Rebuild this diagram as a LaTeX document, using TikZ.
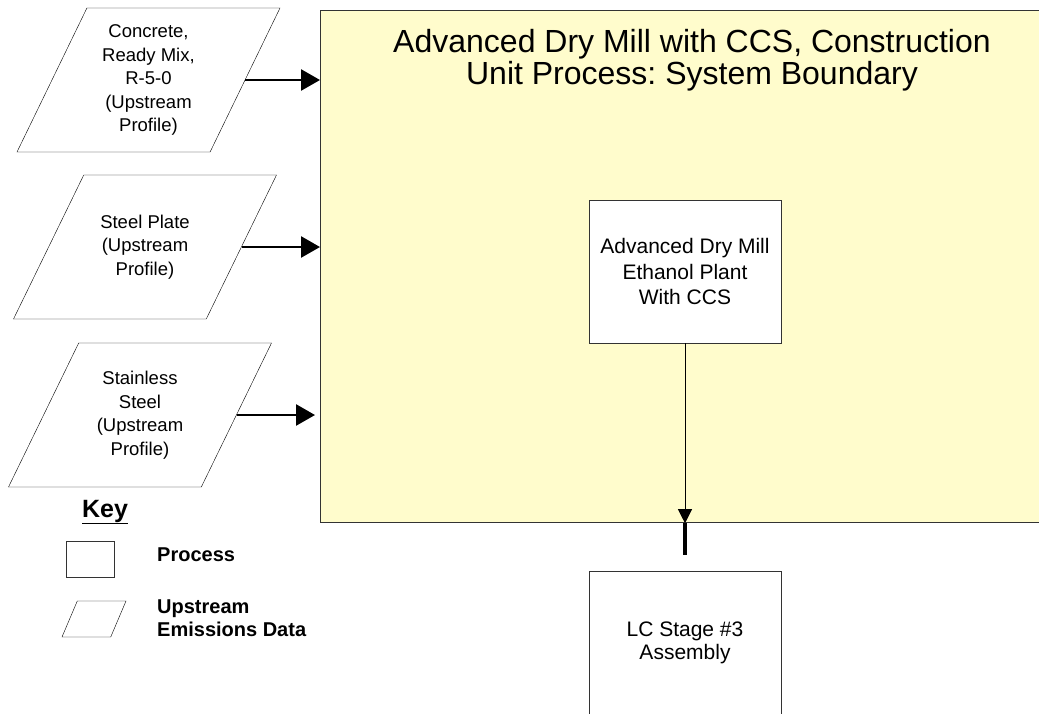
\documentclass[tikz,border=0pt]{standalone}
\usepackage{fontspec}
\setmainfont{Liberation Sans}
\usepackage{tikz}
\usetikzlibrary{shapes.geometric,arrows.meta,positioning}
\frenchspacing

\begin{document}
\begin{tikzpicture}[
  x=1pt, y=-1pt,
  updata/.style={trapezium, trapezium left angle=64, trapezium right angle=116,
    trapezium stretches body, draw=black, thin, align=center,
    inner xsep=0pt, inner ysep=#1,
    minimum width=263pt, minimum height=144pt,
    font=\fontsize{18.5}{23.5}\selectfont},
  proc/.style={rectangle, draw=black!80, fill=white, align=center,
    minimum width=192pt, minimum height=143pt,
    font=\fontsize{21}{25.5}\selectfont},
  bound/.style={rectangle, draw=black!80, line width=1.2pt, fill=yellow!20,
    anchor=north west, minimum width=740pt, minimum height=512pt},
  keytxt/.style={anchor=west, align=left, inner sep=0pt,
    font=\bfseries\fontsize{20}{23}\selectfont},
  arr/.style={-{Triangle[length=19pt,width=21pt]}, line width=2.6pt},
  flow/.style={-{Triangle[length=14pt,width=14pt]}, line width=0.8pt}
]
\useasboundingbox (0,0) rectangle (1039,713);

% system boundary
\node[bound] (boundary) at (320,10) {};
\node[align=center, font=\fontsize{32}{32}\selectfont] (title) at (692,60)
  {Advanced Dry Mill with CCS, Construction\\Unit Process: System Boundary};

% upstream profiles
\node[updata=16.3pt] (concrete) at (148.5,80) {Concrete,\\Ready Mix,\\R-5-0\\(Upstream\\Profile)};
\node[updata=39.9pt] (plate) at (145,247) {Steel Plate\\(Upstream\\Profile)};
\node[updata=28.1pt] (stainless) at (140,415) {Stainless\\Steel\\(Upstream\\Profile)};

% processes
\node[proc] (plant) at (685,271.5) {Advanced Dry Mill\\Ethanol Plant\\With CCS};
\node[proc, font=\fontsize{21}{23}\selectfont] (stage) at (685,642.5) {LC Stage \#3\\Assembly};
\coordinate (exit) at (685,555);

\draw[arr] (concrete.east) -- (concrete.east -| boundary.west);
\draw[arr] (plate.east) -- (plate.east -| boundary.west);
\draw[arr, shorten >=5pt] (stainless.east) -- (stainless.east -| boundary.west);
\draw[flow] (plant.south) -- (plant.south |- boundary.south);
\draw[line width=3.2pt] (plant.south |- boundary.south) -- (exit);

% key
\node[font=\bfseries\fontsize{25}{25}\selectfont, inner sep=0pt] (key) at (105,512) {\underline{Key}};
\node[draw=black!80, minimum width=48pt, minimum height=36pt, inner sep=0pt] (keyproc) at (90,559) {};
\node[keytxt] (keyproctxt) at (157,555) {Process};
\node[trapezium, trapezium left angle=67, trapezium right angle=113,
  trapezium stretches body, draw=black, thin, inner xsep=0pt, inner ysep=18pt,
  minimum width=64pt, minimum height=36pt] (keyup) at (94,619) {};
\node[keytxt] (keyuptxt) at (157,618.5) {Upstream\\Emissions Data};
\end{tikzpicture}
\end{document}
